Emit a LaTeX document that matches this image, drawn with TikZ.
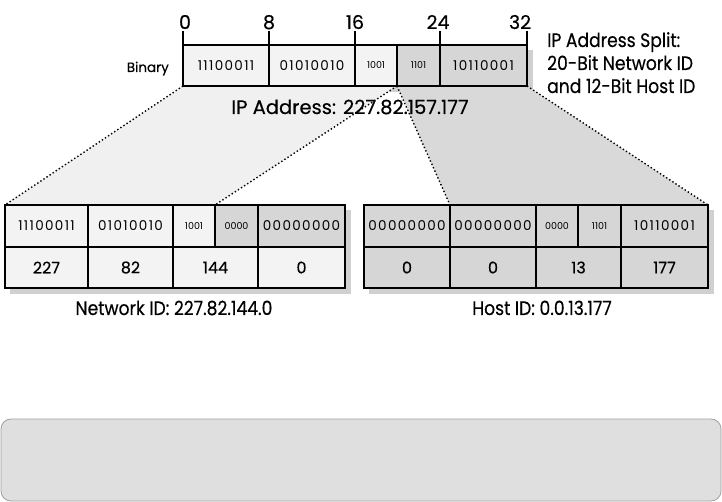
\documentclass[tikz,border=0pt]{standalone}
\usepackage{fontspec}
\setmainfont{Poppins}[FakeBold=0.35]
\newfontfamily\cellfont{Poppins}[LetterSpace=10]
\newfontfamily\smallcellfont{Poppins}
\newfontfamily\narrowfont{Poppins}[FakeStretch=0.88,FakeBold=0.35]
\definecolor{netfill}{HTML}{F3F3F3}
\definecolor{hostfill}{HTML}{D6D6D6}
\definecolor{shadowc}{HTML}{D0D0D0}
\definecolor{nettrap}{HTML}{F0F0F0}
\definecolor{hosttrap}{HTML}{D9D9D9}
\definecolor{panelfill}{HTML}{DFDFDF}
\definecolor{paneldraw}{HTML}{A0A0A0}
\begin{document}
\begin{tikzpicture}[x=1pt,y=-1pt,
  cell/.style={draw=black, line width=1.1pt, inner sep=0pt, outer sep=0pt, anchor=north west, font=\cellfont\fontsize{13.5}{13.5}\selectfont},
  smallcell/.style={cell, font=\smallcellfont\fontsize{9.5}{9.5}\selectfont},
  numcell/.style={cell, font=\fontsize{16}{16}\selectfont},
  outer/.style={draw=black, line width=2.2pt},
  dotline/.style={line width=1.4pt, dash pattern=on 1.4pt off 2.3pt},
  tick/.style={line width=2pt},
  bigtext/.style={font=\fontsize{19.5}{19.5}\selectfont, inner sep=0pt, anchor=base},
  idtext/.style={font=\narrowfont\fontsize{19.5}{19.5}\selectfont, inner sep=0pt, anchor=base},
  ticklabel/.style={font=\fontsize{19}{19}\selectfont, inner sep=0pt, anchor=base}
]
\useasboundingbox (0,0) rectangle (722,502);

% shadows
\fill[shadowc] (188,50) rectangle (533,92);
\fill[shadowc] (10,210) rectangle (351,294);
\fill[shadowc] (369,210) rectangle (714,294);

% trapezoids
\fill[nettrap] (183,86) -- (397,86) -- (215,205) -- (5,205) -- cycle;
\fill[hosttrap] (397,86) -- (527,86) -- (708,205) -- (450,205) -- cycle;

% top box
\node[cell, fill=netfill, minimum width=86pt, minimum height=41pt] (t1) at (183,45) {11100011};
\node[cell, fill=netfill, minimum width=86pt, minimum height=41pt] (t2) at (269,45) {01010010};
\node[smallcell, fill=netfill, minimum width=42pt, minimum height=41pt] (t3) at (355,45) {1001};
\node[smallcell, fill=hostfill, minimum width=43pt, minimum height=41pt] (t4) at (397,45) {1101};
\node[cell, fill=hostfill, minimum width=87pt, minimum height=41pt] (t5) at (440,45) {10110001};
\draw[outer] (t1.north west) rectangle (t5.south east);

% ticks
\coordinate (k0) at (183,31);
\coordinate (k8) at (269,31);
\coordinate (k16) at (355,31);
\coordinate (k24) at (440,31);
\coordinate (k32) at (527,31);
\draw[tick] (k0) -- (t1.north west);
\draw[tick] (k8) -- (t2.north west);
\draw[tick] (k16) -- (t3.north west);
\draw[tick] (k24) -- (t5.north west);
\draw[tick] (k32) -- (t5.north east);
\node[ticklabel] (l0) at (185,29) {0};
\node[ticklabel] (l8) at (269,29) {8};
\node[ticklabel] (l16) at (355,29) {16};
\node[ticklabel] (l24) at (438,29) {24};
\node[ticklabel] (l32) at (520,29) {32};

\node[font=\fontsize{13.5}{13.5}\selectfont, inner sep=0pt, anchor=base east] (bin) at (169,72) {Binary};

% bottom-left box
\node[cell, fill=netfill, minimum width=83pt, minimum height=42pt] (a1) at (5,205) {11100011};
\node[cell, fill=netfill, minimum width=85pt, minimum height=42pt] (a2) at (88,205) {01010010};
\node[smallcell, fill=netfill, minimum width=42pt, minimum height=42pt] (a3) at (173,205) {1001};
\node[smallcell, fill=hostfill, minimum width=43pt, minimum height=42pt] (a4) at (215,205) {0000};
\node[cell, fill=hostfill, minimum width=87pt, minimum height=42pt] (a5) at (258,205) {00000000};
\node[numcell, fill=netfill, minimum width=83pt, minimum height=41pt] (b1) at (5,247) {227};
\node[numcell, fill=netfill, minimum width=85pt, minimum height=41pt] (b2) at (88,247) {82};
\node[numcell, fill=netfill, minimum width=85pt, minimum height=41pt] (b3) at (173,247) {144};
\node[numcell, fill=netfill, minimum width=87pt, minimum height=41pt] (b4) at (258,247) {0};
\draw[outer] (a1.north west) rectangle (b4.south east);

% bottom-right box
\node[cell, fill=hostfill, minimum width=86pt, minimum height=42pt] (c1) at (364,205) {00000000};
\node[cell, fill=hostfill, minimum width=86pt, minimum height=42pt] (c2) at (450,205) {00000000};
\node[smallcell, fill=hostfill, minimum width=42pt, minimum height=42pt] (c3) at (536,205) {0000};
\node[smallcell, fill=hostfill, minimum width=43pt, minimum height=42pt] (c4) at (578,205) {1101};
\node[cell, fill=hostfill, minimum width=87pt, minimum height=42pt] (c5) at (621,205) {10110001};
\node[numcell, fill=hostfill, minimum width=86pt, minimum height=41pt] (d1) at (364,247) {0};
\node[numcell, fill=hostfill, minimum width=86pt, minimum height=41pt] (d2) at (450,247) {0};
\node[numcell, fill=hostfill, minimum width=85pt, minimum height=41pt] (d3) at (536,247) {13};
\node[numcell, fill=hostfill, minimum width=87pt, minimum height=41pt] (d4) at (621,247) {177};
\draw[outer] (c1.north west) rectangle (d4.south east);

% labels
\node[bigtext] (ip) at (350,114) {IP Address: 227.82.157.177};
\node[idtext] (netid) at (174,315) {Network ID: 227.82.144.0};
\node[idtext] (hostid) at (542,315) {Host ID: 0.0.13.177};
\node[idtext, anchor=base west] (split1) at (547,47) {IP Address Split:};
\node[idtext, anchor=base west] (split2) at (547,70) {20-Bit Network ID};
\node[idtext, anchor=base west] (split3) at (547,93) {and 12-Bit Host ID};

% dotted connectors
\draw[dotline] (t1.south west) -- (a1.north west);
\draw[dotline] (t3.south east) -- (a3.north east);
\draw[dotline] (t4.south west) -- (c1.north east);
\draw[dotline] (t5.south east) -- (c5.north east);

% bottom panel
\draw[rounded corners=10pt, fill=panelfill, draw=paneldraw, line width=0.8pt] (1,419) rectangle (721,501);
\end{tikzpicture}
\end{document}
